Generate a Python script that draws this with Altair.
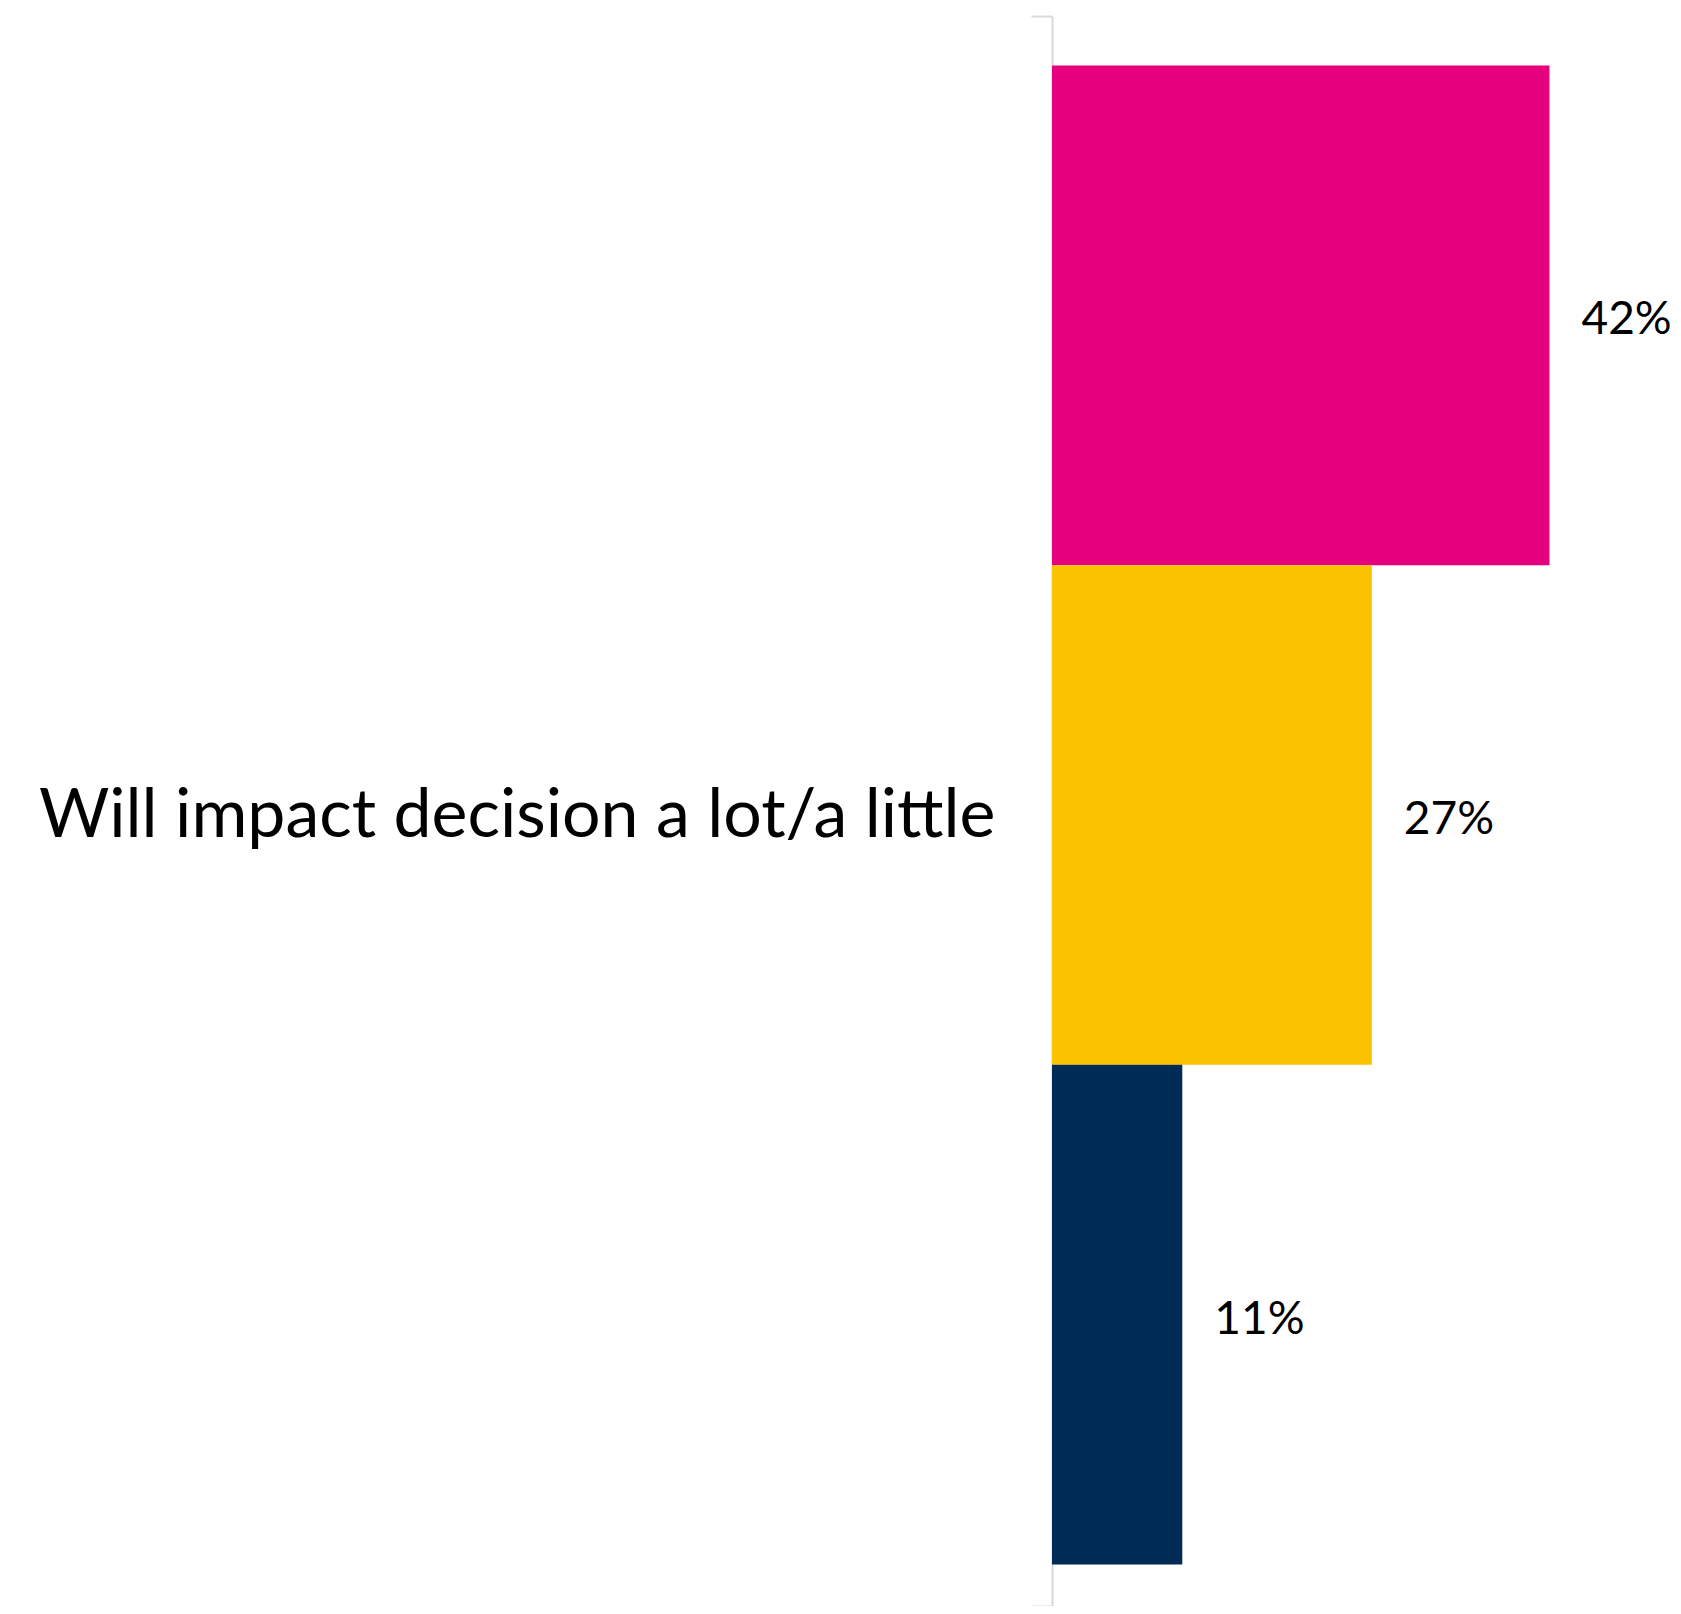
import altair as alt
import pandas as pd

category = ["Will impact decision a lot/a little"] * 3
series = ["Series 1", "Series 2", "Series 3"]
values = [42, 27, 11]
colors = ["#E6007E", "#FBC200", "#002B55"]

df = pd.DataFrame({"category": category, "series": series, "value": values})

y_enc = alt.Y(
    "category:N",
    title=None,
    scale=alt.Scale(paddingInner=0, paddingOuter=0),
    axis=alt.Axis(
        domainColor="#d9d9d9",
        domainWidth=2,
        tickColor="#d9d9d9",
        tickWidth=2,
        tickSize=21,
        tickBand="extent",
        labelPadding=36,
        labelOffset=5,
        labelFont="Lato",
        labelFontSize=68,
        labelColor="#000000",
        labelLimit=2000,
    ),
)
yoff = alt.YOffset(
    "series:N",
    sort=series,
    scale=alt.Scale(paddingInner=0, paddingOuter=0.091, align=0.544),
)
x_enc = alt.X(
    "value:Q",
    scale=alt.Scale(domain=[0, 45]),
    axis=None,
)

base = alt.Chart(df)

bars = base.mark_bar().encode(
    x=x_enc,
    y=y_enc,
    yOffset=yoff,
    color=alt.Color("series:N", sort=series,
                    scale=alt.Scale(domain=series, range=colors), legend=None),
)

labels = base.transform_calculate(
    label="datum.value + '%'"
).mark_text(
    align="left", baseline="middle", dx=32, dy=5, font="Lato", fontSize=46, color="#000000"
).encode(
    x=x_enc,
    y=y_enc,
    yOffset=yoff,
    text="label:N",
)

chart = (bars + labels).properties(
    width=533,
    height=1590,
    autosize=alt.AutoSizeParams(type="none"),
    padding={"left": 1044, "top": 8, "right": 86, "bottom": 0},
).configure(background="#ffffff").configure_view(stroke=None)

chart.save("out.html", embed_options={"renderer": "svg", "actions": False})
